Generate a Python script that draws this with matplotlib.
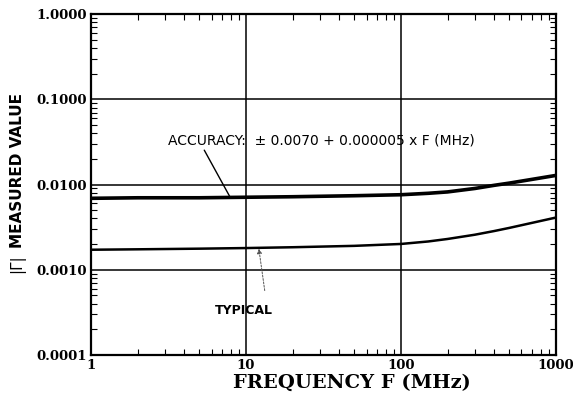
import matplotlib
matplotlib.use("Agg")
import matplotlib.pyplot as plt
from matplotlib.ticker import LogLocator, FixedLocator, NullFormatter

# values
freq_acc = [1, 2, 5, 10, 20, 50, 100, 150, 200, 300, 400, 500, 700, 1000]
accuracy = [0.0069, 0.0070, 0.0070, 0.0071, 0.0072, 0.0074, 0.0076, 0.0079, 0.0082,
            0.0090, 0.0098, 0.0104, 0.0115, 0.0128]
freq_typ = [1, 2, 5, 10, 20, 50, 100, 150, 200, 300, 400, 500, 700, 1000]
typical = [0.00172, 0.00174, 0.00177, 0.00180, 0.00184, 0.00191, 0.00201, 0.00215, 0.00230,
           0.00258, 0.00285, 0.00310, 0.00355, 0.00410]

x_ticks = [1, 10, 100, 1000]
x_labels = ["1", "10", "100", "1000"]
y_ticks = [0.0001, 0.001, 0.01, 0.1, 1.0]
y_labels = ["0.0001", "0.0010", "0.0100", "0.1000", "1.0000"]

plt.rcParams["font.family"] = "DejaVu Serif"

fig = plt.figure(figsize=(5.73, 4.03), dpi=100)
ax = fig.add_axes([0.159, 0.119, 0.811, 0.846])

ax.plot(freq_acc, accuracy, color="black", linewidth=2.6)
ax.plot(freq_typ, typical, color="black", linewidth=1.8)

ax.set_xscale("log")
ax.set_yscale("log")
ax.set_xlim(1, 1000)
ax.set_ylim(0.0001, 1.0)

ax.xaxis.set_major_locator(FixedLocator(x_ticks))
ax.set_xticklabels(x_labels)
ax.yaxis.set_major_locator(FixedLocator(y_ticks))
ax.set_yticklabels(y_labels)
ax.xaxis.set_minor_locator(LogLocator(base=10, subs=range(2, 10)))
ax.yaxis.set_minor_locator(LogLocator(base=10, subs=range(2, 10)))
ax.xaxis.set_minor_formatter(NullFormatter())
ax.yaxis.set_minor_formatter(NullFormatter())

ax.tick_params(which="both", direction="in", top=True, right=True, length=0)
ax.tick_params(which="minor", length=4, width=0.8)
ax.tick_params(which="major", labelsize=9.5, pad=3)
for lab in ax.get_xticklabels() + ax.get_yticklabels():
    lab.set_fontweight("bold")

ax.grid(True, which="major", color="black", linewidth=1.1)
for sp in ax.spines.values():
    sp.set_linewidth(1.6)

# axis titles placed by hand, as in the reference
fig.text(0.614, 0.05, "FREQUENCY F (MHz)", fontsize=14, fontweight="bold",
         ha="center", va="center")
fig.text(0.030, 0.576, "MEASURED VALUE", fontsize=11, fontweight="bold",
         family="DejaVu Sans", rotation=90, ha="center", va="center")
fig.text(0.030, 0.345, "|Γ|", fontsize=11, family="DejaVu Sans",
         rotation=90, ha="center", va="center")

# annotations
ax.annotate("ACCURACY:  ± 0.0070 + 0.000005 x F (MHz)", xy=(7.9, 0.0071), xytext=(3.14, 0.033),
            fontsize=10, family="DejaVu Sans", ha="left", va="center",
            arrowprops=dict(arrowstyle="-", color="black", linewidth=1.0, shrinkA=0, shrinkB=0,
                            relpos=(0.113, 0.0)))
ax.annotate("TYPICAL", xy=(12.1, 0.00177), xytext=(9.63, 0.00033),
            fontsize=9, fontweight="bold", family="DejaVu Sans", ha="center", va="center",
            arrowprops=dict(arrowstyle="-|>", color="#555555", linewidth=0.7, linestyle=(0, (2, 1.5)),
                            mutation_scale=7, shrinkA=8, shrinkB=0, relpos=(0.9, 1.0)))

fig.savefig("out.png", dpi=100)
